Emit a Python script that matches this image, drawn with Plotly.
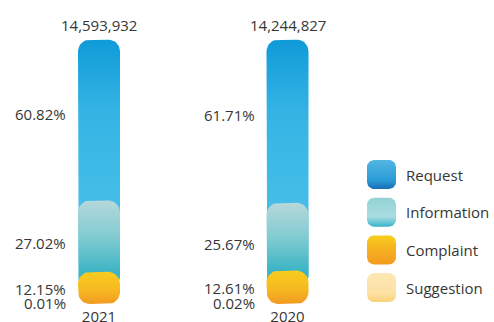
import numpy as np
import plotly.graph_objects as go

# ---------------- data ----------------
years = ["2021", "2020"]
totals = [14593932, 14244827]
request = [60.82, 61.71]
information = [27.02, 25.67]
complaint = [12.15, 12.61]
suggestion = [0.01, 0.02]
series_names = ["Request", "Information", "Complaint", "Suggestion"]

# ---------------- style / layout (figure pixels) ----------------
W, H = 494, 322
BAR0_PX = 99                 # centre of first bar
STEP_PX = 188.5              # distance between bars
BAR_W_PX = 42
TOP_PX = 39.5
BOT_PX = 304
RADIUS_PX = 12
FONT = "Open Sans"
TXT = "#363636"

grad = {
    "Request": [[0, "#44bee8"], [0.55, "#35b4e4"], [1, "#0f9bd8"]],
    "Information": [[0, "#3db4c4"], [0.5, "#82ccd1"], [1, "#b6d8db"]],
    "Complaint": [[0, "#f29a22"], [0.45, "#f6b920"], [1, "#f9cc1e"]],
    "Suggestion": [[0, "#fbd07a"], [1, "#fde4ac"]],
}
leg_grad = {
    "Request": [[0, "#1a6db6"], [0.3, "#2a9bd6"], [1, "#52b6e2"]],
    "Information": [[0, "#38b4c8"], [0.35, "#aadde2"], [1, "#93d2d4"]],
    "Complaint": [[0, "#f39a20"], [0.6, "#f6b520"], [1, "#f8cf1e"]],
    "Suggestion": [[0, "#fbd07a"], [0.3, "#fde1a4"], [1, "#fde7b6"]],
}
label_shift = {"Request": 6, "Information": -7, "Complaint": -1, "Suggestion": 1}


def rrect(xc, halfw, y0, y1, rx, ry, n=10):
    h = y1 - y0
    if h <= 0:
        return [], []
    ry_e = min(ry, h / 2)
    rx_e = rx * ry_e / ry
    cs = [(xc + halfw - rx_e, y1 - ry_e, 0), (xc - halfw + rx_e, y1 - ry_e, 90),
          (xc - halfw + rx_e, y0 + ry_e, 180), (xc + halfw - rx_e, y0 + ry_e, 270)]
    xs, ys = [], []
    for cx, cy, a0 in cs:
        t = np.radians(np.linspace(a0, a0 + 90, n))
        xs += list(cx + rx_e * np.cos(t))
        ys += list(cy + ry_e * np.sin(t))
    xs.append(xs[0]); ys.append(ys[0])
    return xs, ys


s, c, i, r = suggestion, complaint, information, request
mid_c = [s[k] + c[k] / 2 for k in range(2)]
top_c = [s[k] + c[k] for k in range(2)]
top_i = [top_c[k] + i[k] for k in range(2)]
top_r = [top_i[k] + r[k] for k in range(2)]
y_top = max(top_r)

# axis geometry
x_lo = -BAR0_PX / STEP_PX
x_hi = (W - BAR0_PX) / STEP_PX
y_dom = [(H - BOT_PX) / H, (H - TOP_PX) / H]
y_per_px = y_top / (BOT_PX - TOP_PX)
x_per_px = 1 / STEP_PX

fig = go.Figure()

segments = {   # (lower bound drawn, upper bound, visible lower bound for gradient)
    "Request": (mid_c, top_r, top_i),
    "Information": (mid_c, top_i, top_c),
    "Complaint": ([0, 0], top_c, [0, 0]),
    "Suggestion": ([0, 0], s, [0, 0]),
}
half_w = BAR_W_PX / 2 * x_per_px
rx = RADIUS_PX * x_per_px
ry = RADIUS_PX * y_per_px
for name in series_names:
    lo, hi, vis = segments[name]
    for k in range(2):
        xs, ys = rrect(k, half_w, lo[k], hi[k], rx, ry)
        if not xs:
            continue
        fig.add_trace(go.Scatter(
            x=xs, y=ys, mode="lines", fill="toself", line=dict(width=0),
            fillgradient=dict(type="vertical", colorscale=grad[name],
                              start=vis[k], stop=hi[k]),
            hoverinfo="skip", showlegend=False, xaxis="x", yaxis="y"))

# percentage labels
mids = {
    "Request": [top_i[k] + r[k] / 2 for k in range(2)],
    "Information": [top_c[k] + i[k] / 2 for k in range(2)],
    "Complaint": mid_c,
    "Suggestion": [s[k] / 2 for k in range(2)],
}
vals = {"Request": r, "Information": i, "Complaint": c, "Suggestion": s}
for name in series_names:
    for k in range(2):
        fig.add_annotation(x=k, y=mids[name][k], xref="x", yref="y",
                           text=f"{vals[name][k]:.2f}%",
                           xanchor="right", yanchor="middle", showarrow=False,
                           xshift=-(BAR_W_PX / 2 + 10), yshift=label_shift[name],
                           font=dict(family=FONT, size=15, color=TXT))
# totals
for k in range(2):
    fig.add_annotation(x=k, y=top_r[k], xref="x", yref="y", text=f"{totals[k]:,}",
                       xanchor="center", yanchor="bottom", showarrow=False, yshift=3,
                       font=dict(family=FONT, size=15, color=TXT))

# custom legend on a pixel-coordinate overlay axis
LEG_X, LEG_Y0, LEG_STEP, SW = 367, 160, 37.7, 29
for n, name in enumerate(series_names):
    y0 = LEG_Y0 + n * LEG_STEP
    xs, ys = rrect(LEG_X + SW / 2, SW / 2, -(y0 + SW), -y0, 7, 7)
    fig.add_trace(go.Scatter(
        x=xs, y=ys, mode="lines", fill="toself", line=dict(width=0),
        fillgradient=dict(type="vertical", colorscale=leg_grad[name],
                          start=-(y0 + SW), stop=-y0),
        hoverinfo="skip", showlegend=False, xaxis="x2", yaxis="y2"))
    fig.add_annotation(xref="x2", yref="y2", x=LEG_X + SW + 8, y=-(y0 + SW / 2),
                       text=name, xanchor="left", yanchor="middle", showarrow=False,
                       font=dict(family=FONT, size=15, color=TXT))

fig.update_layout(
    width=W, height=H, margin=dict(l=0, r=0, t=0, b=0, pad=0, autoexpand=False),
    plot_bgcolor="rgba(0,0,0,0)", paper_bgcolor="white", showlegend=False,
    hovermode=False,
    xaxis=dict(domain=[0, 1], range=[x_lo, x_hi], tickvals=[0, 1], ticktext=years,
               showgrid=False, zeroline=False, showline=False, ticks="",
               ticklabelstandoff=2, automargin=False,
               tickfont=dict(family=FONT, size=15, color=TXT), fixedrange=True),
    yaxis=dict(domain=y_dom, range=[0, y_top], visible=False, fixedrange=True,
               automargin=False),
    xaxis2=dict(domain=[0, 1], range=[0, W], visible=False, anchor="y2",
                fixedrange=True, automargin=False),
    yaxis2=dict(domain=[0, 1], range=[-H, 0], visible=False, anchor="x2",
                fixedrange=True, automargin=False),
)

page_fix = (
    "var de=document.documentElement, b=document.body;"
    "de.style.margin='0'; de.style.padding='0'; de.style.overflow='hidden';"
    "de.style.height='322px';"
    "b.style.margin='0'; b.style.padding='0'; b.style.overflow='hidden';"
    "b.style.height='322px';"
    "window.scrollTo(0,0);"
)
fig.write_html("out.html", config={"displayModeBar": False}, post_script=page_fix)
